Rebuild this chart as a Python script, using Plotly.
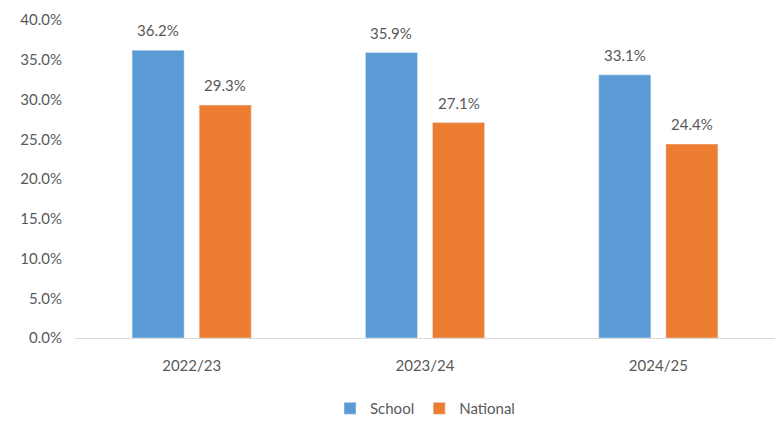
import plotly.graph_objects as go

years = ["2022/23", "2023/24", "2024/25"]
school = [0.362, 0.359, 0.331]
national = [0.293, 0.271, 0.244]

font_family = "Lato, 'Open Sans', sans-serif"
grey = "#595959"

fig = go.Figure()
fig.add_trace(go.Bar(name="School", x=years, y=school, marker_color="#5B9BD5",
                     offsetgroup="school"))
fig.add_trace(go.Bar(name="National", x=years, y=national, marker_color="#ED7D31",
                     offsetgroup="national"))

# Value labels above each bar, offset per series within its category slot
slot = (1 - 0.425) / 2
for series, shift in ((school, -slot / 2), (national, slot / 2)):
    for i, v in enumerate(series):
        fig.add_annotation(x=i + shift, y=v, text=f"{v * 100:.1f}%", showarrow=False,
                           yanchor="bottom", yshift=9,
                           font=dict(size=15, color=grey, family=font_family))

fig.update_layout(
    width=782, height=434,
    margin=dict(l=75, r=7, t=20, b=96, autoexpand=False),
    paper_bgcolor="white", plot_bgcolor="white",
    barmode="group", bargap=0.425, bargroupgap=0.224,
    font=dict(family=font_family, color=grey, size=15),
    showlegend=True,
    legend=dict(orientation="h", x=0.5, xanchor="center", y=-0.17, yanchor="top",
                font=dict(size=15, color=grey), traceorder="normal",
                itemwidth=30, tracegroupgap=0),
    xaxis=dict(showline=True, linecolor="#D9D9D9", linewidth=1, ticks="",
               tickfont=dict(size=15, color=grey), ticklabelstandoff=14),
    yaxis=dict(range=[0, 0.40], dtick=0.05, tickformat=".1%", showgrid=False,
               zeroline=False, showline=False, tickfont=dict(size=15, color=grey),
               ticklabelstandoff=12),
)

fig.write_html("out.html")
